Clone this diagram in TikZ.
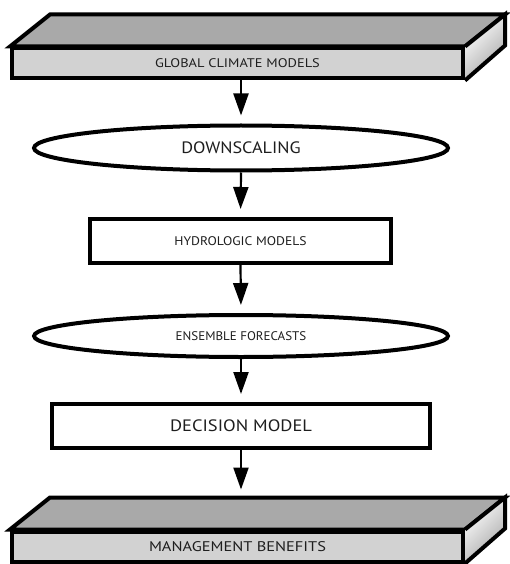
\documentclass[tikz,border=0pt]{standalone}
\usepackage{fontspec}
\setmainfont{PT Sans}
\usetikzlibrary{shapes.geometric,arrows.meta}
\definecolor{topgray}{HTML}{A9A9A9}
\definecolor{frontgray}{HTML}{D2D2D2}
\definecolor{txt}{HTML}{1E1E1E}
\newcommand{\lbl}[3]{\scalebox{#2}[1]{\fontsize{#1}{#1}\selectfont #3}}
\tikzset{
  boxline/.style={line width=4pt, line join=miter},
  front/.style={boxline, draw=black, fill=frontgray, rectangle, inner sep=0pt,
    minimum width=451pt, minimum height=30pt, text=txt},
  oval/.style={ellipse, draw=black, line width=4pt, fill=white, inner sep=0pt,
    minimum width=414pt, text=txt},
  plainbox/.style={rectangle, draw=black, line width=4pt, fill=white, inner sep=0pt,
    minimum height=44pt, text=txt},
  flow/.style={line width=2.2pt, shorten >=8pt,
    -{Triangle[length=22pt,width=15pt]}},
}
\begin{document}
\begin{tikzpicture}[x=1pt,y=-1pt]
\useasboundingbox (0,0) rectangle (509,564);
\fill[white] (0,0) rectangle (509,564);
% nodes
\node[front] (gcm) at (237.5,63.5) {\lbl{12.5}{1.15}{GLOBAL CLIMATE MODELS}};
\node[oval, minimum height=45pt] (ds) at (241,148) {\lbl{16.5}{1.1}{DOWNSCALING}};
\node[plainbox, minimum width=301pt] (hm) at (240.5,241) {\lbl{12.5}{1.09}{HYDROLOGIC MODELS}};
\node[oval, minimum height=42pt] (ef) at (241,336) {\lbl{12.5}{1.04}{ENSEMBLE FORECASTS}};
\node[plainbox, minimum width=378pt] (dm) at (241,426) {\lbl{16.5}{1.12}{DECISION MODEL}};
\node[front] (mb) at (237.5,546.5) {\lbl{14}{1.17}{MANAGEMENT BENEFITS}};
% 3D faces
\foreach \b in {gcm,mb}{
  \filldraw[boxline, fill=topgray] (\b.north west) -- ++(40,-32) -- ++(455,0) -- ++(-40,32) -- cycle;
  \shade[left color=white, right color=gray!70, shading angle=45]
    (\b.north east) -- ++(40,-32) -- ++(0,31) -- (\b.south east) -- cycle;
  \draw[boxline] (\b.north east) -- ++(40,-32) -- ++(0,31) -- (\b.south east);
}
\coordinate (mbtop) at ([yshift=32pt]dm.south |- mb.north);
% connectors
\draw[flow] (gcm.south -| ds.north) -- (ds.north);
\draw[flow] (ds.south) -- (hm.north);
\draw[flow] (hm.south) -- (ef.north);
\draw[flow] (ef.south) -- (dm.north);
\draw[flow] (dm.south) -- (mbtop);
\end{tikzpicture}
\end{document}
